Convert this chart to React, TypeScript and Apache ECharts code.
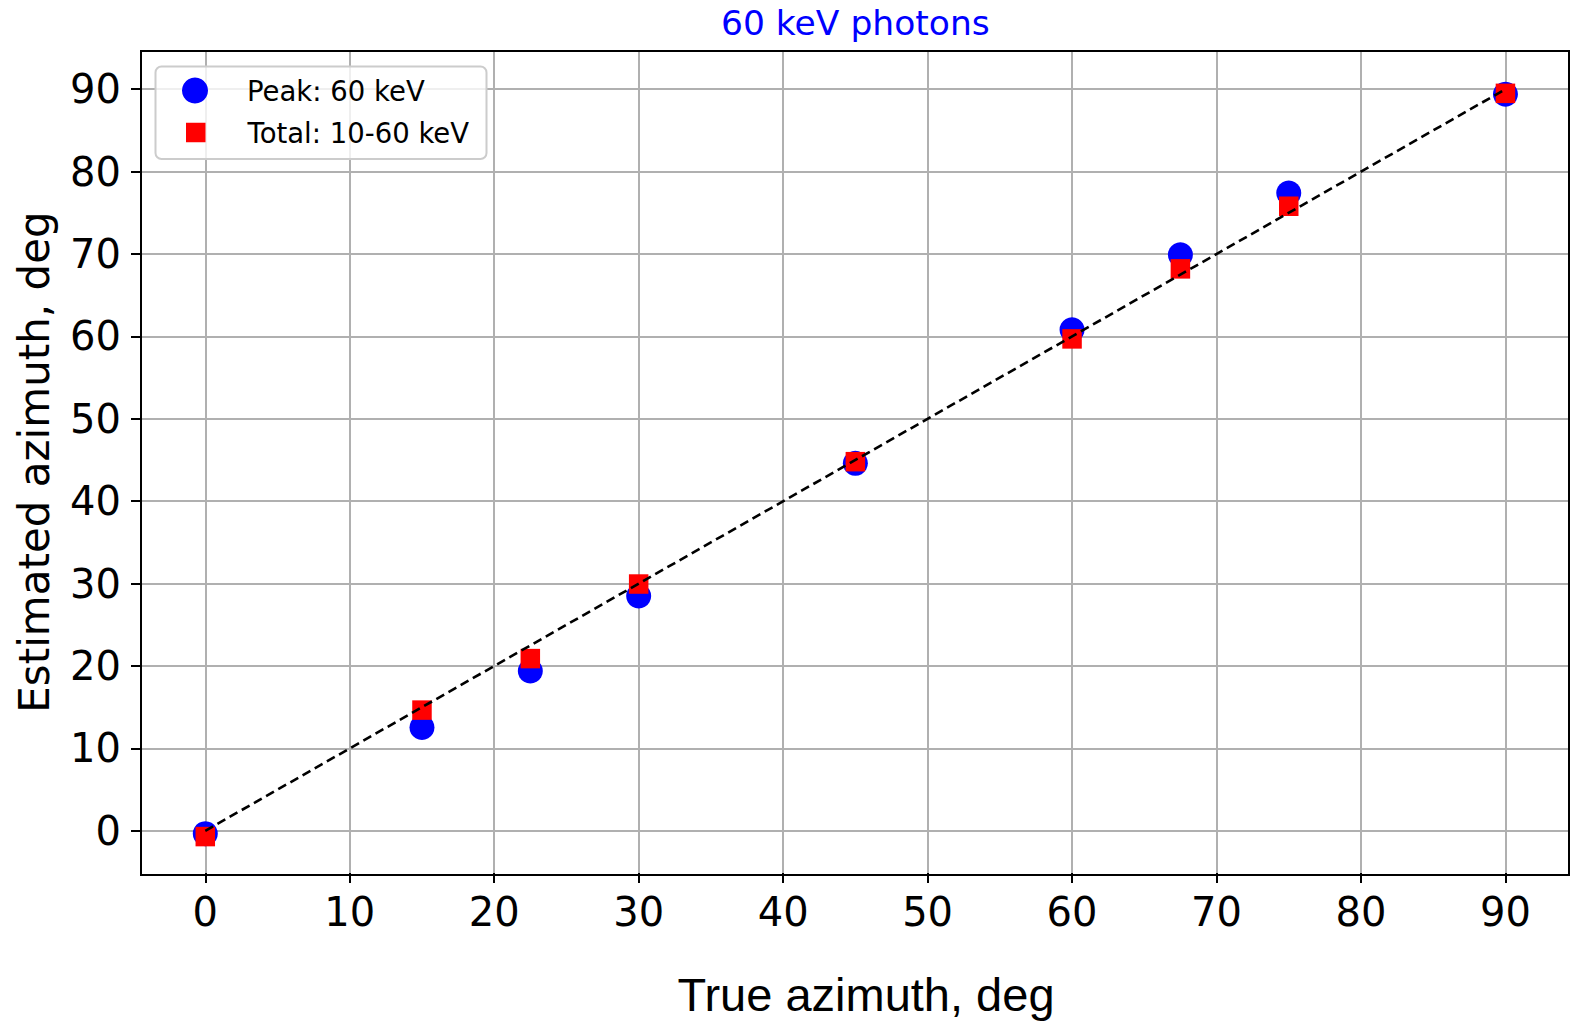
import React, { useEffect, useRef } from "react";
import * as echarts from "echarts";

const trueAzimuth = [0, 15, 22.5, 30, 45, 60, 67.5, 75, 90];
const peakEstimated = [-0.35, 12.55, 19.4, 28.5, 44.6, 60.8, 69.9, 77.4, 89.4];
const totalEstimated = [-0.7, 14.65, 20.9, 29.95, 44.8, 59.7, 68.2, 75.8, 89.5];
const identityLine = [0, 90];
const xTicks = [0, 10, 20, 30, 40, 50, 60, 70, 80, 90];
const yTicks = [0, 10, 20, 30, 40, 50, 60, 70, 80, 90];

const peakName = "Peak: 60 keV";
const totalName = "Total: 10-60 keV";
const titleText = "60 keV photons";
const xName = "True azimuth, deg";
const yName = "Estimated azimuth, deg";

const DV = "'DejaVu Sans', sans-serif";
const LS = "'Liberation Sans', Arial, sans-serif";

const G = { left: 141, top: 51, width: 1428, height: 824 };

export default function App() {
  const ref = useRef<HTMLDivElement>(null);
  useEffect(() => {
    if (!ref.current) return;
    const chart = echarts.init(ref.current, null, { renderer: "svg" });
    chart.setOption({
      animation: false,
      backgroundColor: "#ffffff",
      title: {
        text: titleText,
        left: 721,
        top: 5,
        padding: 0,
        textStyle: { color: "#0000ff", fontSize: 34.5, fontWeight: "normal", fontFamily: DV },
      },
      grid: { left: G.left, top: G.top, width: G.width, height: G.height, containLabel: false },
      xAxis: {
        type: "value",
        min: -4.45,
        max: 94.4,
        splitNumber: 10,
        name: xName,
        nameLocation: "middle",
        nameGap: 98,
        nameTextStyle: { fontSize: 47, fontFamily: LS, color: "#000", padding: [0, 0, 0, 22] },
        axisLine: { show: false, onZero: false },
        axisTick: { show: true, length: 10, inside: false, customValues: xTicks, lineStyle: { color: "#000", width: 2 } },
        axisLabel: { customValues: xTicks, fontSize: 40, fontFamily: DV, color: "#000", margin: 19 },
        splitLine: { show: true, lineStyle: { color: "#b0b0b0", width: 2 } },
      },
      yAxis: {
        type: "value",
        min: -5.12,
        max: 94.64,
        splitNumber: 10,
        name: yName,
        nameLocation: "middle",
        nameGap: 86,
        nameTextStyle: { fontSize: 42, fontFamily: DV, color: "#000" },
        axisLine: { show: false, onZero: false },
        axisTick: { show: true, length: 10, inside: false, customValues: yTicks, lineStyle: { color: "#000", width: 2 } },
        axisLabel: { customValues: yTicks, fontSize: 40, fontFamily: DV, color: "#000", margin: 20 },
        splitLine: { show: true, lineStyle: { color: "#b0b0b0", width: 2 } },
      },
      legend: [
        {
          data: [{ name: peakName, icon: "circle", itemStyle: { color: "#0000ff", opacity: 1 } }],
          left: 182,
          top: 76.5,
          padding: 0,
          itemWidth: 26,
          itemHeight: 26,
          selectedMode: false,
          textStyle: { fontSize: 27.5, fontFamily: DV, color: "#000", lineHeight: 26, padding: [0, 0, 0, 34] },
        },
        {
          data: [{ name: totalName, icon: "rect", itemStyle: { color: "#ff0000", opacity: 1 } }],
          left: 186,
          top: 118.5,
          padding: 0,
          itemWidth: 19.5,
          itemHeight: 19.5,
          selectedMode: false,
          textStyle: { fontSize: 27.5, fontFamily: DV, color: "#000", lineHeight: 19.5, padding: [0, 0, 0, 37] },
        },
      ],
      graphic: [
        {
          type: "rect",
          z: 3,
          shape: { x: 155.5, y: 66.5, width: 331, height: 92.5, r: 6 },
          style: { fill: "rgba(255,255,255,0.8)", stroke: "#cccccc", lineWidth: 2 },
          silent: true,
        },
        {
          type: "rect",
          z: 100,
          shape: { x: G.left, y: G.top, width: G.width, height: G.height },
          style: { fill: "none", stroke: "#000000", lineWidth: 2 },
          silent: true,
        },
      ],
      series: [
        {
          type: "scatter",
          name: peakName,
          symbol: "circle",
          symbolSize: 25,
          itemStyle: { color: "#0000ff", opacity: 1 },
          z: 2,
          data: trueAzimuth.map((x, i) => [x, peakEstimated[i]]),
        },
        {
          type: "scatter",
          name: totalName,
          symbol: "rect",
          symbolSize: 19.5,
          itemStyle: { color: "#ff0000", opacity: 1 },
          z: 3,
          data: trueAzimuth.map((x, i) => [x, totalEstimated[i]]),
        },
        {
          type: "line",
          name: "identity",
          symbol: "none",
          silent: true,
          z: 4,
          lineStyle: { color: "#000000", width: 2.6, type: [9, 5] },
          data: identityLine.map((v) => [v, v]),
        },
      ],
    });
    return () => chart.dispose();
  }, []);
  return (
    <div
      ref={ref}
      style={{ position: "fixed", left: 0, top: 0, width: 1571, height: 1023, background: "#fff" }}
    />
  );
}
